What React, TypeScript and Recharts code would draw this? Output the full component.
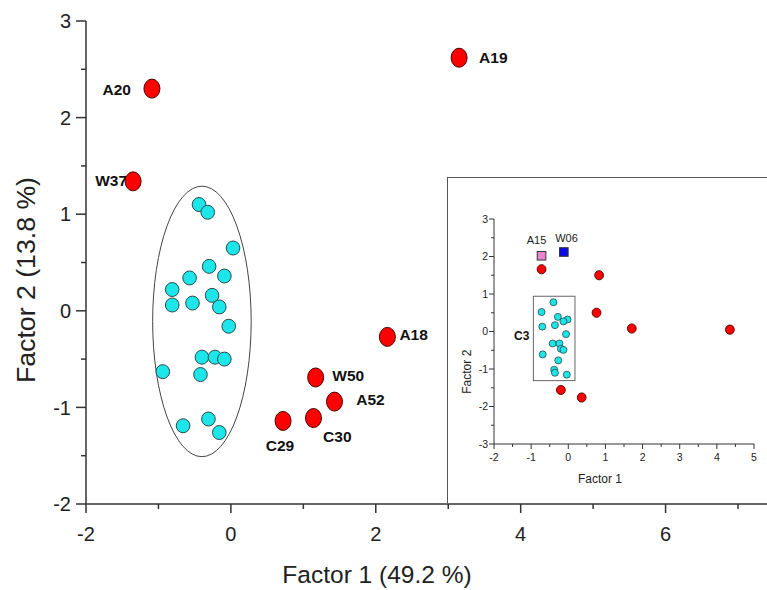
import React from 'react';
import { ScatterChart, Scatter, XAxis, YAxis, ReferenceArea } from 'recharts';

const FONT = '"Liberation Sans", Arial, Helvetica, sans-serif';

// ---------- Main plot data ----------
const outlierNames = ['A19', 'A20', 'W37', 'A18', 'W50', 'A52', 'C30', 'C29'];
const outlierF1 = [3.15, -1.09, -1.35, 2.16, 1.17, 1.43, 1.14, 0.72];
const outlierF2 = [2.62, 2.3, 1.34, -0.27, -0.69, -0.94, -1.11, -1.14];

const clusterF1 = [-0.44, -0.32, 0.03, -0.3, -0.09, -0.57, -0.81, -0.26, -0.81, -0.53, -0.16, -0.03, -0.4, -0.22, -0.09, -0.94, -0.42, -0.31, -0.66, -0.16];
const clusterF2 = [1.1, 1.02, 0.65, 0.46, 0.36, 0.34, 0.22, 0.16, 0.06, 0.08, 0.04, -0.16, -0.48, -0.48, -0.5, -0.63, -0.66, -1.12, -1.19, -1.26];

const mainXTicks = [-2, -1, 0, 1, 2, 3, 4, 5, 6, 7];
const mainYTicks = [-2, -1.5, -1, -0.5, 0, 0.5, 1, 1.5, 2, 2.5, 3];
const clusterEllipse = { x1: -1.08, x2: 0.28, y1: -1.51, y2: 1.29 };

// ---------- Inset data ----------
const insetRedF1 = [-0.72, 0.83, 0.76, 1.71, 4.35, -0.2, 0.36];
const insetRedF2 = [1.66, 1.5, 0.5, 0.08, 0.05, -1.56, -1.76];
const insetCyanF1 = [-0.4, -0.72, -0.28, -0.02, -0.13, -0.36, -0.7, -0.06, -0.42, -0.24, -0.2, -0.13, -0.69, -0.27, -0.38, -0.36, -0.04];
const insetCyanF2 = [0.78, 0.52, 0.39, 0.32, 0.27, 0.17, 0.13, -0.07, -0.32, -0.32, -0.46, -0.49, -0.61, -0.77, -1.02, -1.1, -1.15];
const insetSquareNames = ['A15', 'W06'];
const insetSquareF1 = [-0.72, -0.12];
const insetSquareF2 = [2.02, 2.12];
const insetXTicks = [-2, -1.5, -1, -0.5, 0, 0.5, 1, 1.5, 2, 2.5, 3, 3.5, 4, 4.5, 5];
const insetYTicks = [-3, -2.5, -2, -1.5, -1, -0.5, 0, 0.5, 1, 1.5, 2, 2.5, 3];
const insetBox = { x1: -0.94, x2: 0.18, y1: -1.31, y2: 0.94, label: 'C3' };

const outlierData = outlierNames.map((n, i) => ({ name: n, x: outlierF1[i], y: outlierF2[i] }));
const clusterData = clusterF1.map((x, i) => ({ x, y: clusterF2[i] }));
const insetRedData = insetRedF1.map((x, i) => ({ x, y: insetRedF2[i] }));
const insetCyanData = insetCyanF1.map((x, i) => ({ x, y: insetCyanF2[i] }));
const insetSquareData = insetSquareNames.map((n, i) => ({ name: n, x: insetSquareF1[i], y: insetSquareF2[i] }));

// ---------- Layout for point labels (pixel offsets) ----------
const labelLayout: Record<string, { dx: number; dy: number; anchor: string }> = {
  A19: { dx: 20, dy: 5.5, anchor: 'start' },
  A20: { dx: -21, dy: 6.1, anchor: 'end' },
  W37: { dx: -6, dy: 4.5, anchor: 'end' },
  A18: { dx: 12, dy: 3.1, anchor: 'start' },
  W50: { dx: 16.6, dy: 3.8, anchor: 'start' },
  A52: { dx: 21.7, dy: 3.1, anchor: 'start' },
  C30: { dx: 9.6, dy: 23.5, anchor: 'start' },
  C29: { dx: -17.3, dy: 30.2, anchor: 'start' },
};
const squareLabelLayout: Record<string, { dx: number; dy: number }> = {
  A15: { dx: -5, dy: -11.5 },
  W06: { dx: 2.7, dy: -9.6 },
};

const AXIS = '#333';

const RedShape = (p: any) => {
  const { cx, cy, payload } = p;
  const l = labelLayout[payload.name];
  return (
    <g>
      {l && (
        <text x={cx + l.dx} y={cy + l.dy} textAnchor={l.anchor} fontSize={15.5} fontWeight="bold" fill="#111" fontFamily={FONT}>
          {payload.name}
        </text>
      )}
      <ellipse cx={cx} cy={cy} rx={8} ry={9.5} fill="#ff0000" stroke="#4a0000" strokeWidth={1} />
    </g>
  );
};

const CyanShape = (p: any) => (
  <ellipse cx={p.cx} cy={p.cy} rx={6.8} ry={7} fill="#1ce6ea" stroke="#2a4a4a" strokeWidth={1} />
);

const SmallRed = (p: any) => (
  <ellipse cx={p.cx} cy={p.cy} rx={4.4} ry={4.6} fill="#ff0000" stroke="#4a0000" strokeWidth={0.9} />
);
const SmallCyan = (p: any) => (
  <circle cx={p.cx} cy={p.cy} r={3.5} fill="#1ce6ea" stroke="#2a4a4a" strokeWidth={0.8} />
);
const SquareShape = (p: any) => {
  const { cx, cy, payload } = p;
  const l = squareLabelLayout[payload.name];
  const fill = payload.name === 'A15' ? '#e985cf' : '#0a0ae6';
  return (
    <g>
      <rect x={cx - 4.3} y={cy - 4.3} width={8.6} height={8.6} fill={fill} stroke="#333" strokeWidth={1} />
      <text x={cx + l.dx} y={cy + l.dy} textAnchor="middle" fontSize={11} fill="#222" fontFamily={FONT}>
        {payload.name}
      </text>
    </g>
  );
};

const MainYTick = (p: any) => {
  const { x, y, payload } = p;
  const v = payload.value;
  const major = Number.isInteger(v);
  return (
    <g>
      <line x1={x} x2={x - (major ? 10 : 5)} y1={y} y2={y} stroke={AXIS} strokeWidth={1.5} />
      {major && (
        <text x={x - 15} y={y + 7.2} textAnchor="end" fontSize={20} fill="#222" fontFamily={FONT}>
          {v}
        </text>
      )}
    </g>
  );
};

const MainXTick = (p: any) => {
  const { x, y, payload } = p;
  const v = payload.value;
  const major = v % 2 === 0;
  return (
    <g>
      <line x1={x} x2={x} y1={y} y2={y + (major ? 9 : 5)} stroke={AXIS} strokeWidth={1.5} />
      {major && (
        <text x={x} y={y + 37} textAnchor="middle" fontSize={20} fill="#222" fontFamily={FONT}>
          {v}
        </text>
      )}
    </g>
  );
};

const InsetYTick = (p: any) => {
  const { x, y, payload } = p;
  const v = payload.value;
  const major = Number.isInteger(v);
  return (
    <g>
      <line x1={x} x2={x - (major ? 5 : 3)} y1={y} y2={y} stroke={AXIS} strokeWidth={1} />
      {major && (
        <text x={x - 6} y={y + 3.8} textAnchor="end" fontSize={10.5} fill="#222" fontFamily={FONT}>
          {v}
        </text>
      )}
    </g>
  );
};

const InsetXTick = (p: any) => {
  const { x, y, payload } = p;
  const v = payload.value;
  const major = Number.isInteger(v);
  return (
    <g>
      <line x1={x} x2={x} y1={y} y2={y + (major ? 5 : 3)} stroke={AXIS} strokeWidth={1} />
      {major && (
        <text x={x} y={y + 17} textAnchor="middle" fontSize={10.5} fill="#222" fontFamily={FONT}>
          {v}
        </text>
      )}
    </g>
  );
};

const EllipseShape = (p: any) => {
  const { x, y, width, height } = p;
  return (
    <ellipse cx={x + width / 2} cy={y + height / 2} rx={width / 2} ry={height / 2} fill="none" stroke="#444" strokeWidth={1} />
  );
};

const BoxShape = (p: any) => {
  const { x, y, width, height } = p;
  return (
    <g>
      <rect x={x} y={y} width={width} height={height} fill="none" stroke="#666" strokeWidth={1} />
      <text x={x - 4} y={y + height / 2 + 1.5} textAnchor="end" fontSize={12} fontWeight="bold" fill="#111" fontFamily={FONT}>
        {insetBox.label}
      </text>
    </g>
  );
};

export default function App() {
  return (
    <div style={{ position: 'absolute', left: 0, top: 0, width: 767, height: 590, background: '#fff', fontFamily: FONT }}>
      <ScatterChart width={767} height={590} margin={{ top: 21, right: 0, bottom: 0, left: 0 }}>
        <XAxis
          type="number"
          dataKey="x"
          domain={[-2, 7.4]}
          ticks={mainXTicks}
          interval={0}
          tick={<MainXTick />}
          tickLine={false}
          tickSize={0}
          tickMargin={0}
          height={86}
          axisLine={{ stroke: AXIS, strokeWidth: 1.5 }}
          label={{
            content: () => (
              <text x={377} y={583} textAnchor="middle" fontSize={24.5} fill="#222" fontFamily={FONT}>
                Factor 1 (49.2 %)
              </text>
            ),
          }}
        />
        <YAxis
          type="number"
          dataKey="y"
          domain={[-2, 3]}
          ticks={mainYTicks}
          interval={0}
          tick={<MainYTick />}
          tickLine={false}
          tickSize={0}
          tickMargin={0}
          width={86}
          axisLine={{ stroke: AXIS, strokeWidth: 1.5 }}
          label={{
            content: () => (
              <text
                x={35}
                y={280}
                textAnchor="middle"
                fontSize={25}
                fill="#222"
                fontFamily={FONT}
                textLength={206}
                lengthAdjust="spacingAndGlyphs"
                transform="rotate(-90 35 280)"
              >
                Factor 2 (13.8 %)
              </text>
            ),
          }}
        />
        <ReferenceArea
          x1={clusterEllipse.x1}
          x2={clusterEllipse.x2}
          y1={clusterEllipse.y1}
          y2={clusterEllipse.y2}
          shape={EllipseShape}
        />
        <Scatter data={clusterData} shape={CyanShape} isAnimationActive={false} />
        <Scatter data={outlierData} shape={RedShape} isAnimationActive={false} />
      </ScatterChart>

      <div
        style={{
          position: 'absolute',
          left: 447,
          top: 177,
          width: 320,
          height: 326,
          borderLeft: '1px solid #555',
          borderTop: '1px solid #555',
          boxSizing: 'border-box',
        }}
      >
        <ScatterChart width={319} height={325} margin={{ top: 41, right: 13, bottom: 0, left: 0 }}>
          <XAxis
            type="number"
            dataKey="x"
            domain={[-2, 5]}
            ticks={insetXTicks}
            interval={0}
            tick={<InsetXTick />}
            tickLine={false}
            tickSize={0}
            tickMargin={0}
            height={59}
            axisLine={{ stroke: AXIS, strokeWidth: 1 }}
            label={{
              content: () => (
                <text x={152} y={305} textAnchor="middle" fontSize={12} fill="#222" fontFamily={FONT}>
                  Factor 1
                </text>
              ),
            }}
          />
          <YAxis
            type="number"
            dataKey="y"
            domain={[-3, 3]}
            ticks={insetYTicks}
            interval={0}
            tick={<InsetYTick />}
            tickLine={false}
            tickSize={0}
            tickMargin={0}
            width={46}
            axisLine={{ stroke: AXIS, strokeWidth: 1 }}
            label={{
              content: () => (
                <text x={23.5} y={193.7} textAnchor="middle" fontSize={12} fill="#222" fontFamily={FONT} transform="rotate(-90 23.5 193.7)">
                  Factor 2
                </text>
              ),
            }}
          />
          <ReferenceArea x1={insetBox.x1} x2={insetBox.x2} y1={insetBox.y1} y2={insetBox.y2} shape={BoxShape} />
          <Scatter data={insetCyanData} shape={SmallCyan} isAnimationActive={false} />
          <Scatter data={insetRedData} shape={SmallRed} isAnimationActive={false} />
          <Scatter data={insetSquareData} shape={SquareShape} isAnimationActive={false} />
        </ScatterChart>
      </div>
    </div>
  );
}
